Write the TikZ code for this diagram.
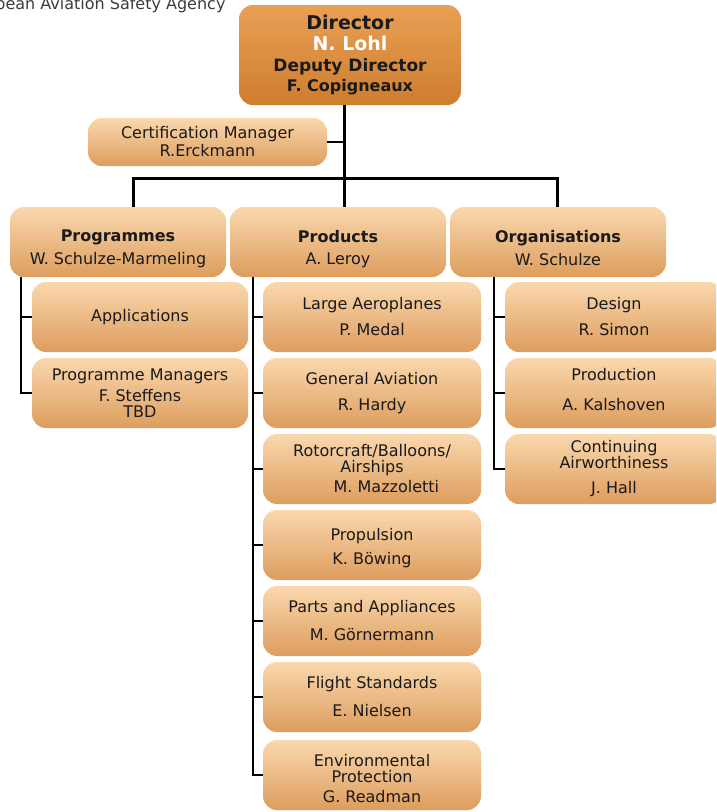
\documentclass[tikz,border=0pt]{standalone}
\usepackage{fontspec}
\setmainfont{DejaVu Sans}
\definecolor{boxtop}{HTML}{FAD8AE}
\definecolor{boxmid}{HTML}{F1BA7C}
\definecolor{boxbot}{HTML}{DD9D5E}
\definecolor{dirtop}{HTML}{E9A055}
\definecolor{dirmid}{HTML}{E2903F}
\definecolor{dirbot}{HTML}{CF7D2E}
\definecolor{txt}{HTML}{1A1A1A}
\tikzset{
  orgbox/.style={rounded corners=14pt, top color=boxtop, middle color=boxmid,
    bottom color=boxbot, inner sep=0pt, align=center, text=txt,
    font=\fontsize{16}{16}\selectfont, minimum width=216pt, minimum height=70pt},
  dirbox/.style={orgbox, top color=dirtop, middle color=dirmid, bottom color=dirbot,
    font=\fontsize{19}{20}\selectfont\bfseries},
  mainline/.style={line width=3pt, black},
  subline/.style={line width=2pt, black},
}
\begin{document}
\begin{tikzpicture}[x=1pt, y=-1pt]
\useasboundingbox (0,0) rectangle (716,812);
\clip (0,0) rectangle (716,812);
\node[anchor=base east, font=\fontsize{16}{16}\selectfont, text=txt!85] (title) at (229,9) {European Aviation Safety Agency};

% boxes
\node[dirbox, minimum width=222pt, minimum height=100pt] (dir) at (350,55)
  {Director\\[1pt]{\color{white}N. Lohl}\\[1pt]{\fontsize{17}{18}\selectfont Deputy Director}\\[0pt]{\fontsize{16}{16}\selectfont F. Copigneaux}};
\node[orgbox, minimum width=239pt, minimum height=48pt] (cert) at (207.5,142)
  {Certification Manager\\[2pt]R.Erckmann};

\node[orgbox] (prog) at (118,242) {\mbox{}\\[10pt]\textbf{Programmes}\\[7pt]W. Schulze-Marmeling};
\node[orgbox] (prod) at (338,242) {\mbox{}\\[10pt]\textbf{Products}\\[6pt]A. Leroy};
\node[orgbox] (org) at (558,242) {\mbox{}\\[8pt]\textbf{Organisations}\\[7pt]W. Schulze};

\node[orgbox] (app) at (140,317) {Applications};
\node[orgbox] (pm) at (140,393) {Programme Managers\\[5pt]F. Steffens\\TBD};

\node[orgbox, minimum width=218pt] (la) at (372,317) {Large Aeroplanes\\[10pt]P. Medal};
\node[orgbox, minimum width=218pt] (ga) at (372,393) {General Aviation\\[10pt]R. Hardy};
\node[orgbox, minimum width=218pt] (rot) at (372,469) {Rotorcraft/Balloons/\\Airships\\[4pt]\hspace*{1.8em}M. Mazzoletti};
\node[orgbox, minimum width=218pt] (prop) at (372,545) {\mbox{}\\[2pt]Propulsion\\[8pt]K. Böwing};
\node[orgbox, minimum width=218pt] (parts) at (372,621) {Parts and Appliances\\[12pt]M. Görnermann};
\node[orgbox, minimum width=218pt] (flight) at (372,697) {Flight Standards\\[12pt]E. Nielsen};
\node[orgbox, minimum width=218pt] (env) at (372,775) {\mbox{}\\[4pt]Environmental\\Protection\\[4pt]G. Readman};

\node[orgbox, minimum width=218pt] (des) at (614,317) {Design\\[10pt]R. Simon};
\node[orgbox, minimum width=218pt] (pdn) at (614,393) {Production\\[14pt]A. Kalshoven\\[-8pt]\mbox{}};
\node[orgbox, minimum width=218pt] (cont) at (614,469) {Continuing\\Airworthiness\\[9pt]J. Hall};

% trunk connectors
\coordinate (trunk) at (344,0);
\coordinate (barL) at (133,178);
\coordinate (barR) at (557,178);
\draw[mainline] (dir.south -| trunk) -- (prod.north -| trunk);
\draw[subline] (cert.east) -- (cert.east -| trunk);
\draw[mainline] (prog.north -| barL) -- (barL) -- (barR) -- (org.north -| barR);

% programmes branch
\coordinate (pgl) at (21,0);
\draw[subline] (prog.south -| pgl) |- (pm.west);
\draw[subline] (app.west -| pgl) -- (app.west);

% products branch
\coordinate (pdl) at (253,0);
\draw[subline] (prod.south -| pdl) |- (env.west);
\foreach \n in {la,ga,rot,prop,parts,flight}
  \draw[subline] (\n.west -| pdl) -- (\n.west);

% organisations branch
\coordinate (ogl) at (494,0);
\draw[subline] (org.south -| ogl) |- (cont.west);
\foreach \n in {des,pdn}
  \draw[subline] (\n.west -| ogl) -- (\n.west);
\end{tikzpicture}
\end{document}
